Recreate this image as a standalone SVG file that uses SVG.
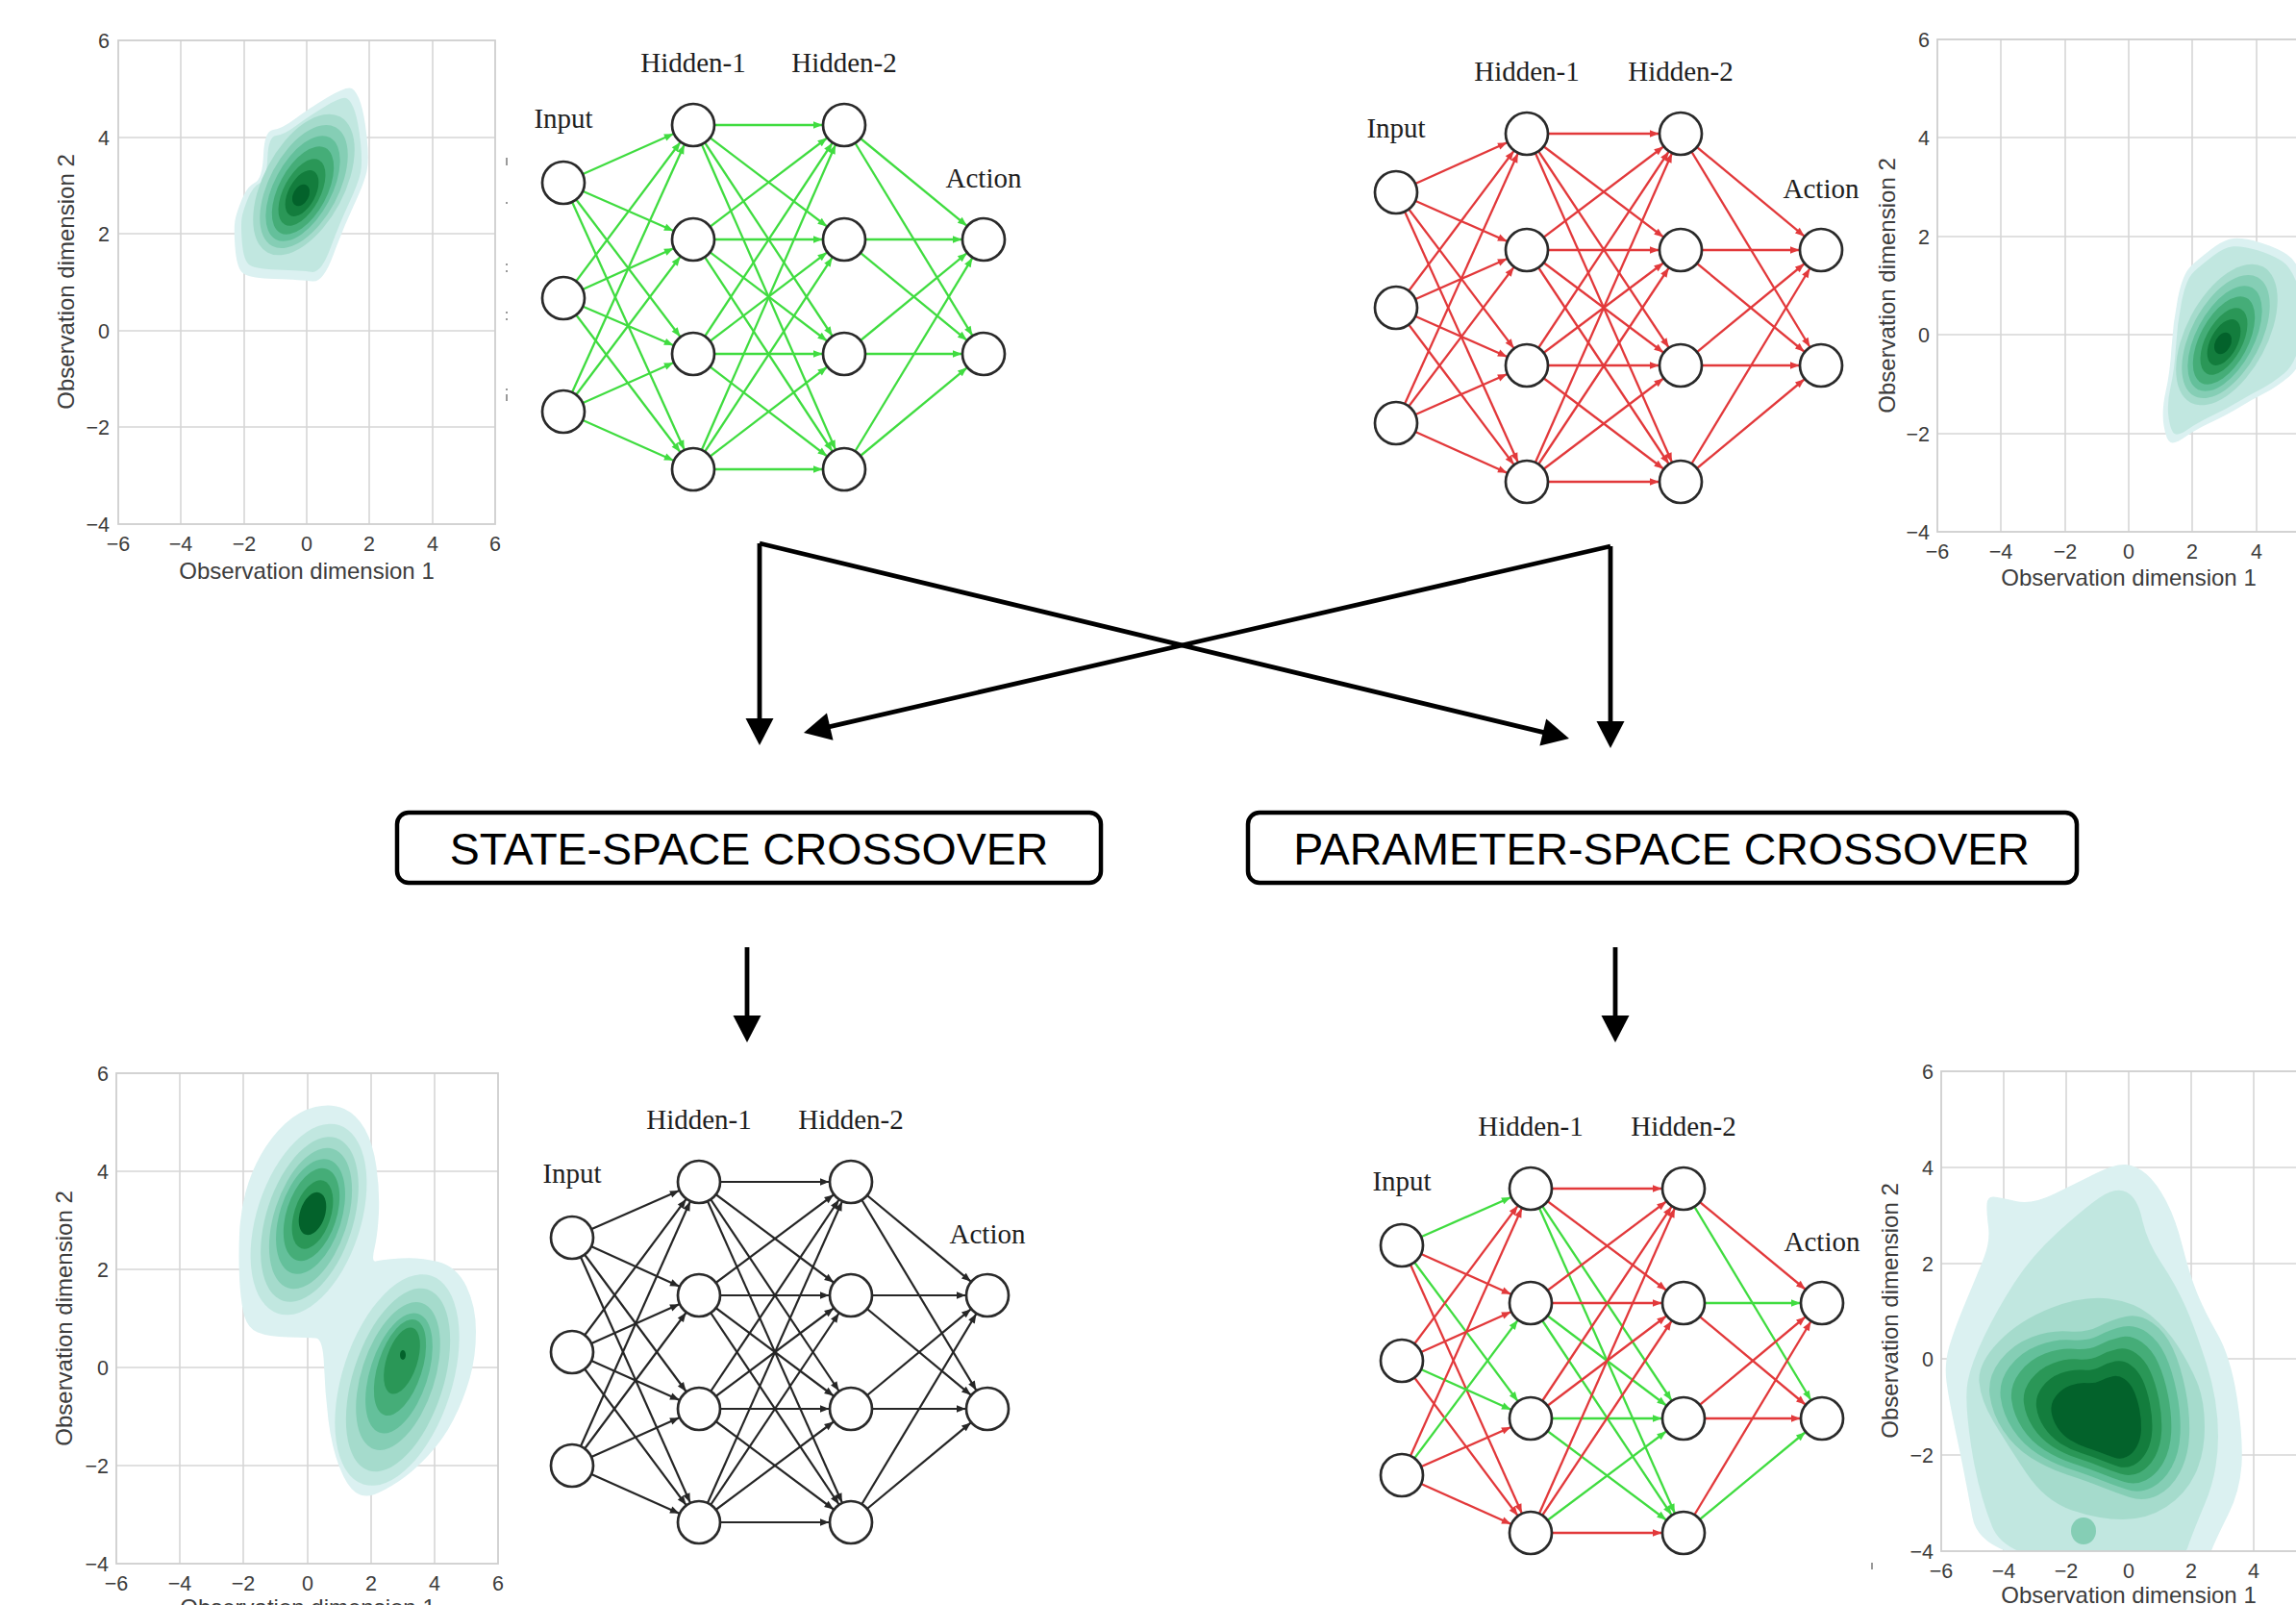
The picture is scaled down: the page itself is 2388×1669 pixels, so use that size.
<svg xmlns="http://www.w3.org/2000/svg" xmlns:xlink="http://www.w3.org/1999/xlink" width="2388" height="1669" viewBox="0 0 2388 1669">
<style>
.tick{font:21.5px "Liberation Sans",Arial,sans-serif;fill:#3c3c3c}
.ty{text-anchor:end}
.tx{text-anchor:middle}
.axlab{font:24px "Liberation Sans",Arial,sans-serif;fill:#3c3c3c;text-anchor:middle}
.grid{stroke:#d6d6d6;stroke-width:1.6}
.spine{fill:none;stroke:#cfcfcf;stroke-width:1.8}
.nnlab{font:29px "Liberation Serif","Times New Roman",serif;fill:#1e1e1e;text-anchor:middle}
.neuron{fill:#fff;stroke:#2a2a2a;stroke-width:2.7}
.eg{stroke:#40dc40;stroke-width:2.3;fill:none;marker-end:url(#mG)}
.er{stroke:#e2393b;stroke-width:2.3;fill:none;marker-end:url(#mR)}
.ek{stroke:#262626;stroke-width:2.2;fill:none;marker-end:url(#mK)}
.big{stroke:#000;stroke-width:4.8;fill:none;marker-end:url(#mBig)}
.box{fill:#fff;stroke:#000;stroke-width:4.5}
.boxtext{font:46.5px "Liberation Sans",Arial,sans-serif;fill:#000;text-anchor:middle}
.c1{fill:#dbf1f1}.c2{fill:#c1e7e0}.c3{fill:#a5dbcc}.c4{fill:#85ceb5}.c5{fill:#64c09b}
.c6{fill:#45ad78}.c7{fill:#2a9757}.c8{fill:#137d3d}.c9{fill:#03622b}
.stray{fill:#9a9a9a}
</style>
<defs>
<marker id="mG" viewBox="-33 -5 34 10" markerWidth="34" markerHeight="10" refX="0" refY="0" orient="auto" markerUnits="userSpaceOnUse"><path d="M-22.5 0L-32 -3.8L-32 3.8Z" fill="#40dc40"/></marker>
<marker id="mR" viewBox="-33 -5 34 10" markerWidth="34" markerHeight="10" refX="0" refY="0" orient="auto" markerUnits="userSpaceOnUse"><path d="M-22.5 0L-32 -3.8L-32 3.8Z" fill="#e2393b"/></marker>
<marker id="mK" viewBox="-33 -5 34 10" markerWidth="34" markerHeight="10" refX="0" refY="0" orient="auto" markerUnits="userSpaceOnUse"><path d="M-22.5 0L-32 -3.8L-32 3.8Z" fill="#262626"/></marker>
<marker id="mBig" viewBox="-20 -16 32 32" markerWidth="32" markerHeight="32" refX="0" refY="0" orient="auto" markerUnits="userSpaceOnUse"><path d="M-18 -14.5L10 0L-18 14.5Z" fill="#000"/></marker>
<clipPath id="clipTL"><rect x="123" y="42" width="392" height="503"/></clipPath>
<clipPath id="clipTR"><rect x="2015" y="41" width="398" height="512"/></clipPath>
<clipPath id="clipBL"><rect x="121" y="1116" width="397" height="510"/></clipPath>
<clipPath id="clipBR"><rect x="2019" y="1114" width="390" height="499"/></clipPath>
<path id="tlOuter" d="M244.5,257 Q246,277 251.5,283 Q257,289 285.5,290 Q314,291 325,292.5 Q336,294 346.5,265.5 Q357,237 368,213.5 Q379,190 381.5,178 Q384,166 381.5,142.5 Q379,119 375,107 Q371,95 366,92 Q361,89 341,101 Q321,113 307,123.5 Q293,134 284,135 Q275,136 274,161 Q273,186 265,190 Q257,194 251.5,207.5 Q246,221 244.5,229 Q243,237 244.5,257 Z"/>
<path id="trOuter" d="M2250.5,442.5 Q2248,427 2252.5,407 Q2257,387 2258.5,361.5 Q2260,336 2265,310.5 Q2270,285 2278.5,277 Q2287,269 2300,259 Q2313,249 2323,248 Q2333,247 2350,252 Q2367,257 2378.5,264.5 Q2390,272 2397.5,296 Q2405,320 2400,350 Q2395,380 2381,391.5 Q2367,403 2355,409 Q2343,415 2330,423 Q2317,431 2300,439 Q2283,447 2272.5,454.5 Q2262,462 2257.5,460 Q2253,458 2250.5,442.5 Z"/>
<path id="brHeart" d="M2080,1415 Q2093,1398 2113,1390.5 Q2133,1383 2151.5,1384.5 Q2170,1386 2183.5,1379 Q2197,1372 2211,1369 Q2225,1366 2238.5,1375.5 Q2252,1385 2260,1402.5 Q2268,1420 2273,1445 Q2278,1470 2277,1492.5 Q2276,1515 2267,1531.5 Q2258,1548 2244,1555 Q2230,1562 2215,1557 Q2200,1552 2185,1546 Q2170,1540 2150,1533.5 Q2130,1527 2112.5,1516 Q2095,1505 2083.5,1487.5 Q2072,1470 2069.5,1451 Q2067,1432 2080,1415 Z"/>
</defs>

<rect width="2388" height="1669" fill="#fff"/>

<!-- density plot, parent 1 (top left) -->
<g id="plot-parent-1">
  <g class="grid">
    <line x1="188" y1="42" x2="188" y2="545"/><line x1="254" y1="42" x2="254" y2="545"/><line x1="319" y1="42" x2="319" y2="545"/><line x1="384" y1="42" x2="384" y2="545"/><line x1="450" y1="42" x2="450" y2="545"/>
    <line x1="123" y1="143" x2="515" y2="143"/><line x1="123" y1="243" x2="515" y2="243"/><line x1="123" y1="344" x2="515" y2="344"/><line x1="123" y1="444" x2="515" y2="444"/>
  </g>
  <g clip-path="url(#clipTL)">
    <use xlink:href="#tlOuter" class="c1"/>
    <use xlink:href="#tlOuter" class="c2" transform="translate(316 196) scale(0.9) translate(-316 -196)"/>
    <ellipse class="c3" cx="316" cy="192" rx="80" ry="42" transform="rotate(-62 316 192)"/>
    <ellipse class="c4" cx="316" cy="194" rx="70" ry="36" transform="rotate(-62 316 194)"/>
    <ellipse class="c5" cx="315" cy="196" rx="60" ry="30" transform="rotate(-62 315 196)"/>
    <ellipse class="c6" cx="315" cy="198" rx="50" ry="25" transform="rotate(-62 315 198)"/>
    <ellipse class="c7" cx="314" cy="200" rx="38" ry="19" transform="rotate(-62 314 200)"/>
    <ellipse class="c8" cx="314" cy="201" rx="26" ry="14" transform="rotate(-62 314 201)"/>
    <ellipse class="c9" cx="313" cy="203" rx="12" ry="8" transform="rotate(-62 313 203)"/>
  </g>
  <rect class="spine" x="123" y="42" width="392" height="503"/>
  <g class="tick ty">
    <text x="114" y="49.5">6</text><text x="114" y="150.5">4</text><text x="114" y="250.5">2</text><text x="114" y="351.5">0</text><text x="114" y="451.5">−2</text><text x="114" y="552.5">−4</text>
  </g>
  <g class="tick tx">
    <text x="123" y="572.5">−6</text><text x="188" y="572.5">−4</text><text x="254" y="572.5">−2</text><text x="319" y="572.5">0</text><text x="384" y="572.5">2</text><text x="450" y="572.5">4</text><text x="515" y="572.5">6</text>
  </g>
  <text class="axlab" x="319" y="601.5">Observation dimension 1</text>
  <text class="axlab" transform="translate(76.5 293) rotate(-90)">Observation dimension 2</text>
</g>

<!-- density plot, parent 2 (top right) -->
<g id="plot-parent-2">
  <g class="grid">
    <line x1="2081" y1="41" x2="2081" y2="553"/><line x1="2148" y1="41" x2="2148" y2="553"/><line x1="2214" y1="41" x2="2214" y2="553"/><line x1="2280" y1="41" x2="2280" y2="553"/><line x1="2347" y1="41" x2="2347" y2="553"/>
    <line x1="2015" y1="143" x2="2413" y2="143"/><line x1="2015" y1="246" x2="2413" y2="246"/><line x1="2015" y1="348" x2="2413" y2="348"/><line x1="2015" y1="451" x2="2413" y2="451"/>
  </g>
  <g clip-path="url(#clipTR)">
    <use xlink:href="#trOuter" class="c1"/>
    <use xlink:href="#trOuter" class="c2" transform="translate(2315 352) scale(0.92) translate(-2315 -352)"/>
    <ellipse class="c3" cx="2316" cy="348" rx="80" ry="42" transform="rotate(-62 2316 348)"/>
    <ellipse class="c4" cx="2315" cy="350" rx="70" ry="36" transform="rotate(-62 2315 350)"/>
    <ellipse class="c5" cx="2314" cy="352" rx="60" ry="30" transform="rotate(-62 2314 352)"/>
    <ellipse class="c6" cx="2313" cy="354" rx="50" ry="25" transform="rotate(-62 2313 354)"/>
    <ellipse class="c7" cx="2313" cy="355" rx="38" ry="19" transform="rotate(-62 2313 355)"/>
    <ellipse class="c8" cx="2313" cy="356" rx="26" ry="14" transform="rotate(-62 2313 356)"/>
    <ellipse class="c9" cx="2312" cy="357" rx="12" ry="8" transform="rotate(-62 2312 357)"/>
  </g>
  <rect class="spine" x="2015" y="41" width="398" height="512"/>
  <g class="tick ty">
    <text x="2007" y="48.5">6</text><text x="2007" y="150.5">4</text><text x="2007" y="253.5">2</text><text x="2007" y="355.5">0</text><text x="2007" y="458.5">−2</text><text x="2007" y="560.5">−4</text>
  </g>
  <g class="tick tx">
    <text x="2015" y="580.5">−6</text><text x="2081" y="580.5">−4</text><text x="2148" y="580.5">−2</text><text x="2214" y="580.5">0</text><text x="2280" y="580.5">2</text><text x="2347" y="580.5">4</text>
  </g>
  <text class="axlab" x="2214" y="608.5">Observation dimension 1</text>
  <text class="axlab" transform="translate(1970.5 297) rotate(-90)">Observation dimension 2</text>
</g>

<!-- density plot, state-space offspring (bottom left) -->
<g id="plot-offspring-state">
  <g class="grid">
    <line x1="187" y1="1116" x2="187" y2="1626"/><line x1="253" y1="1116" x2="253" y2="1626"/><line x1="320" y1="1116" x2="320" y2="1626"/><line x1="386" y1="1116" x2="386" y2="1626"/><line x1="452" y1="1116" x2="452" y2="1626"/>
    <line x1="121" y1="1218" x2="518" y2="1218"/><line x1="121" y1="1320" x2="518" y2="1320"/><line x1="121" y1="1422" x2="518" y2="1422"/><line x1="121" y1="1524" x2="518" y2="1524"/>
  </g>
  <g clip-path="url(#clipBL)">
    <path class="c1" d="M358,1153 Q371,1159 379.5,1174 Q388,1189 391.5,1213.5 Q395,1238 394,1260.5 Q393,1283 389.5,1298 Q386,1313 391,1311.5 Q396,1310 416,1308.5 Q436,1307 455.5,1312 Q475,1317 485,1337.5 Q495,1358 495,1384.5 Q495,1411 488.5,1433.5 Q482,1456 471.5,1476.5 Q461,1497 445,1514 Q429,1531 414.5,1540.5 Q400,1550 389.5,1554 Q379,1558 370,1552 Q361,1546 353,1525.5 Q345,1505 341.5,1476.5 Q338,1448 337,1420 Q336,1392 328.5,1391.5 Q321,1391 300,1390.5 Q279,1390 268,1385.5 Q257,1381 253.5,1366 Q250,1351 249,1328.5 Q248,1306 249,1283 Q250,1260 255.5,1239.5 Q261,1219 271.5,1200.5 Q282,1182 296.5,1168.5 Q311,1155 328,1151 Q345,1147 358,1153 Z"/>
    <!-- upper mode -->
    <ellipse class="c2" cx="321" cy="1268" rx="54" ry="103" transform="rotate(18 321 1268)"/>
    <ellipse class="c3" cx="322" cy="1268" rx="45" ry="89" transform="rotate(18 322 1268)"/>
    <ellipse class="c4" cx="323" cy="1267" rx="38" ry="76" transform="rotate(18 323 1267)"/>
    <ellipse class="c5" cx="323" cy="1265" rx="32" ry="62" transform="rotate(18 323 1265)"/>
    <ellipse class="c6" cx="324" cy="1263" rx="26" ry="50" transform="rotate(18 324 1263)"/>
    <ellipse class="c7" cx="325" cy="1263" rx="19" ry="37" transform="rotate(18 325 1263)"/>
    <ellipse class="c9" cx="325" cy="1262" rx="13" ry="23" transform="rotate(18 325 1262)"/>
    <!-- lower mode -->
    <ellipse class="c2" cx="413" cy="1435" rx="57" ry="114" transform="rotate(18 413 1435)"/>
    <ellipse class="c3" cx="414" cy="1435" rx="47" ry="99" transform="rotate(18 414 1435)"/>
    <ellipse class="c4" cx="414" cy="1431" rx="38" ry="80" transform="rotate(18 414 1431)"/>
    <ellipse class="c5" cx="415" cy="1428" rx="30" ry="65" transform="rotate(18 415 1428)"/>
    <ellipse class="c6" cx="416" cy="1422" rx="23" ry="52" transform="rotate(18 416 1422)"/>
    <ellipse class="c7" cx="418" cy="1415" rx="16" ry="36" transform="rotate(18 418 1415)"/>
    <ellipse class="c9" cx="419" cy="1409" rx="3" ry="5"/>
  </g>
  <rect class="spine" x="121" y="1116" width="397" height="510"/>
  <g class="tick ty">
    <text x="113" y="1123.5">6</text><text x="113" y="1225.5">4</text><text x="113" y="1327.5">2</text><text x="113" y="1429.5">0</text><text x="113" y="1531.5">−2</text><text x="113" y="1633.5">−4</text>
  </g>
  <g class="tick tx">
    <text x="121" y="1653.5">−6</text><text x="187" y="1653.5">−4</text><text x="253" y="1653.5">−2</text><text x="320" y="1653.5">0</text><text x="386" y="1653.5">2</text><text x="452" y="1653.5">4</text><text x="518" y="1653.5">6</text>
  </g>
  <text class="axlab" x="320" y="1680">Observation dimension 1</text>
  <text class="axlab" transform="translate(74.5 1371) rotate(-90)">Observation dimension 2</text>
</g>

<!-- density plot, parameter-space offspring (bottom right) -->
<g id="plot-offspring-parameter">
  <g class="grid">
    <line x1="2084" y1="1114" x2="2084" y2="1613"/><line x1="2149" y1="1114" x2="2149" y2="1613"/><line x1="2214" y1="1114" x2="2214" y2="1613"/><line x1="2279" y1="1114" x2="2279" y2="1613"/><line x1="2344" y1="1114" x2="2344" y2="1613"/>
    <line x1="2019" y1="1214" x2="2409" y2="1214"/><line x1="2019" y1="1314" x2="2409" y2="1314"/><line x1="2019" y1="1413" x2="2409" y2="1413"/><line x1="2019" y1="1513" x2="2409" y2="1513"/>
  </g>
  <g clip-path="url(#clipBR)">
    <path class="c1" d="M2073.5,1244.5 Q2080,1245 2096.5,1249 Q2113,1253 2136.5,1241.5 Q2160,1230 2180,1220 Q2200,1210 2211,1211 Q2222,1212 2232.5,1221 Q2243,1230 2253,1249 Q2263,1268 2270,1296 Q2277,1324 2284.5,1343 Q2292,1362 2306,1386.5 Q2320,1411 2326.5,1452.5 Q2333,1494 2331.5,1522 Q2330,1550 2317.5,1575 Q2305,1600 2300,1612.5 Q2295,1625 2177.5,1625 Q2060,1625 2051.5,1578 Q2043,1531 2035,1493.5 Q2027,1456 2024.5,1437 Q2022,1418 2027.5,1399.5 Q2033,1381 2045,1352.5 Q2057,1324 2063.5,1307.5 Q2070,1291 2068,1275.5 Q2066,1260 2066.5,1252 Q2067,1244 2073.5,1244.5 Z"/>
    <path class="c2" d="M2140,1281.5 Q2167,1257 2183.5,1245.5 Q2200,1234 2211.5,1239.5 Q2223,1245 2228,1268 Q2233,1291 2248,1313.5 Q2263,1336 2273,1358.5 Q2283,1381 2295,1418.5 Q2307,1456 2307,1493.5 Q2307,1531 2293.5,1563 Q2280,1595 2275,1610 Q2270,1625 2178.5,1625 Q2087,1625 2072,1587.5 Q2057,1550 2050,1503 Q2043,1456 2046.5,1437 Q2050,1418 2063.5,1390 Q2077,1362 2095,1334 Q2113,1306 2140,1281.5 Z"/>
    <path class="c3" d="M2078.5,1395.5 Q2100,1373 2133.5,1360 Q2167,1347 2193.5,1350.5 Q2220,1354 2236.5,1367.5 Q2253,1381 2265,1399.5 Q2277,1418 2285,1437 Q2293,1456 2293,1484 Q2293,1512 2283,1533 Q2273,1554 2253,1567 Q2233,1580 2208,1580 Q2183,1580 2155,1570.5 Q2127,1561 2107,1531 Q2087,1501 2073.5,1478.5 Q2060,1456 2058.5,1437 Q2057,1418 2078.5,1395.5 Z"/>
    <ellipse class="c4" cx="2167" cy="1592" rx="13" ry="14"/>
    <use xlink:href="#brHeart" class="c4"/>
    <use xlink:href="#brHeart" class="c5" transform="translate(2183 1475) scale(0.9) translate(-2183 -1475)"/>
    <use xlink:href="#brHeart" class="c6" transform="translate(2183 1476) scale(0.8) translate(-2183 -1476)"/>
    <use xlink:href="#brHeart" class="c7" transform="translate(2184 1478) scale(0.69) translate(-2184 -1478)"/>
    <use xlink:href="#brHeart" class="c8" transform="translate(2185 1480) scale(0.58) translate(-2185 -1480)"/>
    <use xlink:href="#brHeart" class="c9" transform="translate(2186 1482) scale(0.45) translate(-2186 -1482)"/>
  </g>
  <rect class="spine" x="2019" y="1114" width="390" height="499"/>
  <g class="tick ty">
    <text x="2011" y="1121.5">6</text><text x="2011" y="1221.5">4</text><text x="2011" y="1321.5">2</text><text x="2011" y="1420.5">0</text><text x="2011" y="1520.5">−2</text><text x="2011" y="1620.5">−4</text>
  </g>
  <g class="tick tx">
    <text x="2019" y="1640.5">−6</text><text x="2084" y="1640.5">−4</text><text x="2149" y="1640.5">−2</text><text x="2214" y="1640.5">0</text><text x="2279" y="1640.5">2</text><text x="2344" y="1640.5">4</text>
  </g>
  <text class="axlab" x="2214" y="1666.5">Observation dimension 1</text>
  <text class="axlab" transform="translate(1973.5 1363) rotate(-90)">Observation dimension 2</text>
</g>

<!-- small residual tick marks beside the plots -->
<g id="stray-marks" class="stray">
  <rect x="526" y="164" width="2" height="8"/><rect x="526" y="210" width="2" height="2"/>
  <rect x="526" y="274" width="2" height="2"/><rect x="526" y="281" width="2" height="2"/>
  <rect x="526" y="324" width="2" height="2"/><rect x="526" y="331" width="2" height="2"/>
  <rect x="526" y="404" width="2" height="2"/><rect x="526" y="410" width="2" height="7"/>
  <rect x="1946" y="1625" width="2" height="7"/>
</g>

<!-- policy network, parent 1 (green) -->
<g id="net-parent-1">
  <g id="net-parent-1-edges">
    <path class="eg" d="M586 190L721 130"/><path class="eg" d="M586 190L721 249"/><path class="eg" d="M586 190L721 368"/><path class="eg" d="M586 190L721 488"/>
    <path class="eg" d="M586 310L721 130"/><path class="eg" d="M586 310L721 249"/><path class="eg" d="M586 310L721 368"/><path class="eg" d="M586 310L721 488"/>
    <path class="eg" d="M586 428L721 130"/><path class="eg" d="M586 428L721 249"/><path class="eg" d="M586 428L721 368"/><path class="eg" d="M586 428L721 488"/>
    <path class="eg" d="M721 130L878 130"/><path class="eg" d="M721 130L878 249"/><path class="eg" d="M721 130L878 368"/><path class="eg" d="M721 130L878 488"/>
    <path class="eg" d="M721 249L878 130"/><path class="eg" d="M721 249L878 249"/><path class="eg" d="M721 249L878 368"/><path class="eg" d="M721 249L878 488"/>
    <path class="eg" d="M721 368L878 130"/><path class="eg" d="M721 368L878 249"/><path class="eg" d="M721 368L878 368"/><path class="eg" d="M721 368L878 488"/>
    <path class="eg" d="M721 488L878 130"/><path class="eg" d="M721 488L878 249"/><path class="eg" d="M721 488L878 368"/><path class="eg" d="M721 488L878 488"/>
    <path class="eg" d="M878 130L1023 249"/><path class="eg" d="M878 130L1023 368"/>
    <path class="eg" d="M878 249L1023 249"/><path class="eg" d="M878 249L1023 368"/>
    <path class="eg" d="M878 368L1023 249"/><path class="eg" d="M878 368L1023 368"/>
    <path class="eg" d="M878 488L1023 249"/><path class="eg" d="M878 488L1023 368"/>
  </g>
  <g class="neuron">
    <circle cx="586" cy="190" r="22"/><circle cx="586" cy="310" r="22"/><circle cx="586" cy="428" r="22"/>
    <circle cx="721" cy="130" r="22"/><circle cx="721" cy="249" r="22"/><circle cx="721" cy="368" r="22"/><circle cx="721" cy="488" r="22"/>
    <circle cx="878" cy="130" r="22"/><circle cx="878" cy="249" r="22"/><circle cx="878" cy="368" r="22"/><circle cx="878" cy="488" r="22"/>
    <circle cx="1023" cy="249" r="22"/><circle cx="1023" cy="368" r="22"/>
  </g>
  <g class="nnlab">
    <text x="586" y="133">Input</text><text x="721" y="75">Hidden-1</text><text x="878" y="75">Hidden-2</text><text x="1023" y="195">Action</text>
  </g>
</g>

<!-- policy network, parent 2 (red) -->
<g id="net-parent-2">
  <g id="net-parent-2-edges">
    <path class="er" d="M1452 200L1588 139"/><path class="er" d="M1452 200L1588 260"/><path class="er" d="M1452 200L1588 380"/><path class="er" d="M1452 200L1588 501"/>
    <path class="er" d="M1452 320L1588 139"/><path class="er" d="M1452 320L1588 260"/><path class="er" d="M1452 320L1588 380"/><path class="er" d="M1452 320L1588 501"/>
    <path class="er" d="M1452 440L1588 139"/><path class="er" d="M1452 440L1588 260"/><path class="er" d="M1452 440L1588 380"/><path class="er" d="M1452 440L1588 501"/>
    <path class="er" d="M1588 139L1748 139"/><path class="er" d="M1588 139L1748 260"/><path class="er" d="M1588 139L1748 380"/><path class="er" d="M1588 139L1748 501"/>
    <path class="er" d="M1588 260L1748 139"/><path class="er" d="M1588 260L1748 260"/><path class="er" d="M1588 260L1748 380"/><path class="er" d="M1588 260L1748 501"/>
    <path class="er" d="M1588 380L1748 139"/><path class="er" d="M1588 380L1748 260"/><path class="er" d="M1588 380L1748 380"/><path class="er" d="M1588 380L1748 501"/>
    <path class="er" d="M1588 501L1748 139"/><path class="er" d="M1588 501L1748 260"/><path class="er" d="M1588 501L1748 380"/><path class="er" d="M1588 501L1748 501"/>
    <path class="er" d="M1748 139L1894 260"/><path class="er" d="M1748 139L1894 380"/>
    <path class="er" d="M1748 260L1894 260"/><path class="er" d="M1748 260L1894 380"/>
    <path class="er" d="M1748 380L1894 260"/><path class="er" d="M1748 380L1894 380"/>
    <path class="er" d="M1748 501L1894 260"/><path class="er" d="M1748 501L1894 380"/>
  </g>
  <g class="neuron">
    <circle cx="1452" cy="200" r="22"/><circle cx="1452" cy="320" r="22"/><circle cx="1452" cy="440" r="22"/>
    <circle cx="1588" cy="139" r="22"/><circle cx="1588" cy="260" r="22"/><circle cx="1588" cy="380" r="22"/><circle cx="1588" cy="501" r="22"/>
    <circle cx="1748" cy="139" r="22"/><circle cx="1748" cy="260" r="22"/><circle cx="1748" cy="380" r="22"/><circle cx="1748" cy="501" r="22"/>
    <circle cx="1894" cy="260" r="22"/><circle cx="1894" cy="380" r="22"/>
  </g>
  <g class="nnlab">
    <text x="1452" y="143">Input</text><text x="1588" y="84">Hidden-1</text><text x="1748" y="84">Hidden-2</text><text x="1894" y="206">Action</text>
  </g>
</g>

<!-- policy network, state-space offspring (black) -->
<g id="net-offspring-state">
  <g id="net-offspring-state-edges">
    <path class="ek" d="M595 1287L727 1229"/><path class="ek" d="M595 1287L727 1347"/><path class="ek" d="M595 1287L727 1465"/><path class="ek" d="M595 1287L727 1583"/>
    <path class="ek" d="M595 1406L727 1229"/><path class="ek" d="M595 1406L727 1347"/><path class="ek" d="M595 1406L727 1465"/><path class="ek" d="M595 1406L727 1583"/>
    <path class="ek" d="M595 1524L727 1229"/><path class="ek" d="M595 1524L727 1347"/><path class="ek" d="M595 1524L727 1465"/><path class="ek" d="M595 1524L727 1583"/>
    <path class="ek" d="M727 1229L885 1229"/><path class="ek" d="M727 1229L885 1347"/><path class="ek" d="M727 1229L885 1465"/><path class="ek" d="M727 1229L885 1583"/>
    <path class="ek" d="M727 1347L885 1229"/><path class="ek" d="M727 1347L885 1347"/><path class="ek" d="M727 1347L885 1465"/><path class="ek" d="M727 1347L885 1583"/>
    <path class="ek" d="M727 1465L885 1229"/><path class="ek" d="M727 1465L885 1347"/><path class="ek" d="M727 1465L885 1465"/><path class="ek" d="M727 1465L885 1583"/>
    <path class="ek" d="M727 1583L885 1229"/><path class="ek" d="M727 1583L885 1347"/><path class="ek" d="M727 1583L885 1465"/><path class="ek" d="M727 1583L885 1583"/>
    <path class="ek" d="M885 1229L1027 1347"/><path class="ek" d="M885 1229L1027 1465"/>
    <path class="ek" d="M885 1347L1027 1347"/><path class="ek" d="M885 1347L1027 1465"/>
    <path class="ek" d="M885 1465L1027 1347"/><path class="ek" d="M885 1465L1027 1465"/>
    <path class="ek" d="M885 1583L1027 1347"/><path class="ek" d="M885 1583L1027 1465"/>
  </g>
  <g class="neuron">
    <circle cx="595" cy="1287" r="22"/><circle cx="595" cy="1406" r="22"/><circle cx="595" cy="1524" r="22"/>
    <circle cx="727" cy="1229" r="22"/><circle cx="727" cy="1347" r="22"/><circle cx="727" cy="1465" r="22"/><circle cx="727" cy="1583" r="22"/>
    <circle cx="885" cy="1229" r="22"/><circle cx="885" cy="1347" r="22"/><circle cx="885" cy="1465" r="22"/><circle cx="885" cy="1583" r="22"/>
    <circle cx="1027" cy="1347" r="22"/><circle cx="1027" cy="1465" r="22"/>
  </g>
  <g class="nnlab">
    <text x="595" y="1230">Input</text><text x="727" y="1174">Hidden-1</text><text x="885" y="1174">Hidden-2</text><text x="1027" y="1293">Action</text>
  </g>
</g>

<!-- policy network, parameter-space offspring (mixed weights) -->
<g id="net-offspring-parameter">
  <g id="net-offspring-parameter-edges">
    <path class="eg" d="M1458 1295L1592 1236"/><path class="er" d="M1458 1295L1592 1355"/><path class="eg" d="M1458 1295L1592 1475"/><path class="er" d="M1458 1295L1592 1594"/>
    <path class="er" d="M1458 1415L1592 1236"/><path class="er" d="M1458 1415L1592 1355"/><path class="eg" d="M1458 1415L1592 1475"/><path class="er" d="M1458 1415L1592 1594"/>
    <path class="er" d="M1458 1534L1592 1236"/><path class="eg" d="M1458 1534L1592 1355"/><path class="er" d="M1458 1534L1592 1475"/><path class="er" d="M1458 1534L1592 1594"/>
    <path class="er" d="M1592 1236L1751 1236"/><path class="er" d="M1592 1236L1751 1355"/><path class="eg" d="M1592 1236L1751 1475"/><path class="eg" d="M1592 1236L1751 1594"/>
    <path class="er" d="M1592 1355L1751 1236"/><path class="er" d="M1592 1355L1751 1355"/><path class="eg" d="M1592 1355L1751 1475"/><path class="eg" d="M1592 1355L1751 1594"/>
    <path class="er" d="M1592 1475L1751 1236"/><path class="er" d="M1592 1475L1751 1355"/><path class="eg" d="M1592 1475L1751 1475"/><path class="eg" d="M1592 1475L1751 1594"/>
    <path class="er" d="M1592 1594L1751 1236"/><path class="er" d="M1592 1594L1751 1355"/><path class="eg" d="M1592 1594L1751 1475"/><path class="er" d="M1592 1594L1751 1594"/>
    <path class="er" d="M1751 1236L1895 1355"/><path class="eg" d="M1751 1236L1895 1475"/>
    <path class="eg" d="M1751 1355L1895 1355"/><path class="er" d="M1751 1355L1895 1475"/>
    <path class="er" d="M1751 1475L1895 1355"/><path class="er" d="M1751 1475L1895 1475"/>
    <path class="er" d="M1751 1594L1895 1355"/><path class="eg" d="M1751 1594L1895 1475"/>
  </g>
  <g class="neuron">
    <circle cx="1458" cy="1295" r="22"/><circle cx="1458" cy="1415" r="22"/><circle cx="1458" cy="1534" r="22"/>
    <circle cx="1592" cy="1236" r="22"/><circle cx="1592" cy="1355" r="22"/><circle cx="1592" cy="1475" r="22"/><circle cx="1592" cy="1594" r="22"/>
    <circle cx="1751" cy="1236" r="22"/><circle cx="1751" cy="1355" r="22"/><circle cx="1751" cy="1475" r="22"/><circle cx="1751" cy="1594" r="22"/>
    <circle cx="1895" cy="1355" r="22"/><circle cx="1895" cy="1475" r="22"/>
  </g>
  <g class="nnlab">
    <text x="1458" y="1238">Input</text><text x="1592" y="1181">Hidden-1</text><text x="1751" y="1181">Hidden-2</text><text x="1895" y="1301">Action</text>
  </g>
</g>

<!-- crossover operators -->
<g id="state-space-crossover">
  <rect class="box" x="413" y="845" width="732" height="73" rx="12"/>
  <text class="boxtext" x="779" y="898.5">STATE-SPACE CROSSOVER</text>
</g>
<g id="parameter-space-crossover">
  <rect class="box" x="1298" y="845" width="862" height="73" rx="12"/>
  <text class="boxtext" x="1728" y="898.5">PARAMETER-SPACE CROSSOVER</text>
</g>

<!-- flow arrows -->
<g id="connectors">
  <line class="big" x1="790" y1="565" x2="790" y2="765"/>
  <line class="big" x1="790" y1="565" x2="1622.3" y2="765.7"/>
  <line class="big" x1="1675" y1="568" x2="1675" y2="768"/>
  <line class="big" x1="1675" y1="568" x2="845.7" y2="759.7"/>
  <line class="big" x1="777" y1="985" x2="777" y2="1074"/>
  <line class="big" x1="1680" y1="985" x2="1680" y2="1074"/>
</g>
</svg>
